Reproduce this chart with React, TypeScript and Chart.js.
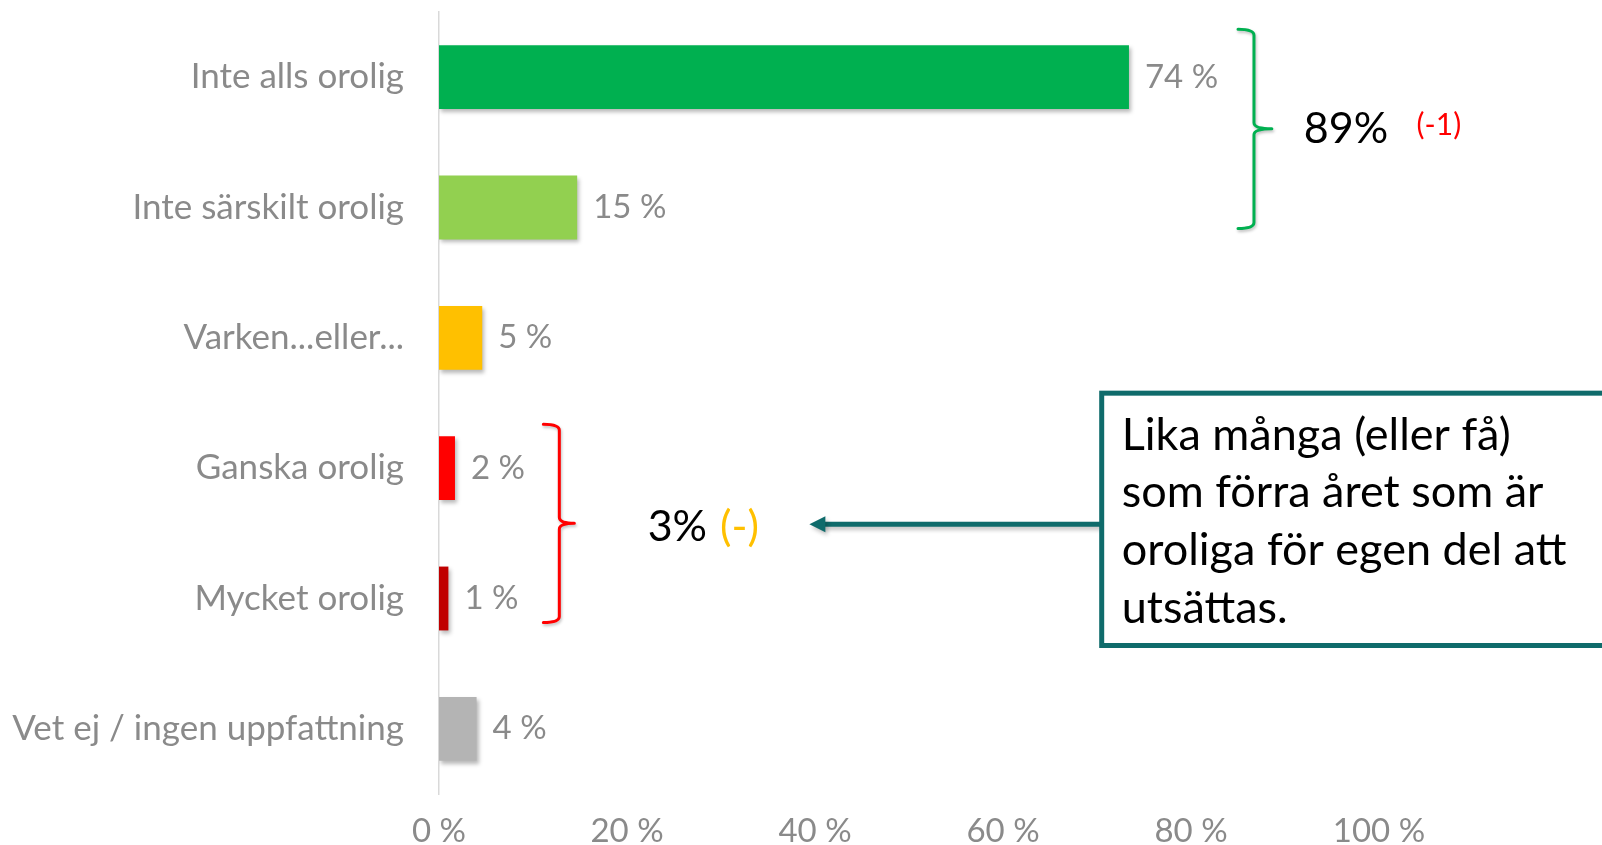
import React, { useEffect, useRef } from "react";
import { Chart, registerables } from "chart.js";

Chart.register(...registerables);

const categories = [
  "Inte alls orolig",
  "Inte särskilt orolig",
  "Varken...eller...",
  "Ganska orolig",
  "Mycket orolig",
  "Vet ej / ingen uppfattning",
];
const values = [73.4, 14.7, 4.6, 1.7, 1.0, 4.0];
const valueLabels = ["74 %", "15 %", "5 %", "2 %", "1 %", "4 %"];
const barColors = ["#00B050", "#92D050", "#FFC000", "#FF0000", "#C00000", "#B4B4B4"];
const xTicks = [0, 20, 40, 60, 80, 100];

const FONT = "Lato, 'Open Sans', sans-serif";
const GRAY = "#8a8a8a";
const TEAL = "#0F6B6B";

const shadowPlugin = {
  id: "barShadow",
  beforeDatasetsDraw(chart: any) {
    const ctx = chart.ctx;
    ctx.save();
    ctx.shadowColor = "rgba(0,0,0,0.28)";
    ctx.shadowBlur = 4;
    ctx.shadowOffsetX = 2;
    ctx.shadowOffsetY = 3;
  },
  afterDatasetsDraw(chart: any) {
    chart.ctx.restore();
  },
};

const labelPlugin = {
  id: "valueLabels",
  afterDatasetsDraw(chart: any) {
    const ctx = chart.ctx;
    const meta = chart.getDatasetMeta(0);
    ctx.save();
    ctx.font = `33px ${FONT}`;
    ctx.fillStyle = GRAY;
    ctx.textAlign = "left";
    ctx.textBaseline = "middle";
    meta.data.forEach((bar: any, i: number) => {
      ctx.fillText(valueLabels[i], bar.x + 16, bar.y);
    });
    ctx.restore();
  },
};

function drawBrace(ctx: any, hookX: number, lineX: number, tipX: number, top: number, bottom: number, color: string) {
  const mid = (top + bottom) / 2;
  const r = 6;
  ctx.save();
  ctx.strokeStyle = color;
  ctx.lineWidth = 3;
  ctx.lineCap = "round";
  ctx.lineJoin = "round";
  ctx.shadowColor = "rgba(0,0,0,0.25)";
  ctx.shadowBlur = 3;
  ctx.shadowOffsetX = 1;
  ctx.shadowOffsetY = 2;
  ctx.beginPath();
  ctx.moveTo(hookX, top);
  ctx.quadraticCurveTo(lineX, top, lineX, top + r);
  ctx.lineTo(lineX, mid - r);
  ctx.quadraticCurveTo(lineX, mid, tipX, mid);
  ctx.quadraticCurveTo(lineX, mid, lineX, mid + r);
  ctx.lineTo(lineX, bottom - r);
  ctx.quadraticCurveTo(lineX, bottom, hookX, bottom);
  ctx.stroke();
  ctx.restore();
}

const annotationPlugin = {
  id: "annotations",
  afterDraw(chart: any) {
    const ctx = chart.ctx;
    const xs = chart.scales.x;
    const ys = chart.scales.y;
    const px = (v: number) => xs.getPixelForValue(v);
    const py = (i: number) => ys.getPixelForValue(i);

    const gTop = py(0) - 48;
    const gBot = py(1) + 21;
    const rTop = py(3) - 44;
    const rBot = py(4) + 24;
    drawBrace(ctx, px(85), px(86.7), px(88.6), gTop, gBot, "#00B050");
    drawBrace(ctx, px(11.1), px(12.8), px(14.4), rTop, rBot, "#FF0000");

    const greenMid = (gTop + gBot) / 2;
    const redMid = (rTop + rBot) / 2;

    ctx.save();
    ctx.textBaseline = "middle";
    ctx.textAlign = "left";
    ctx.font = `43px ${FONT}`;
    ctx.fillStyle = "#000000";
    ctx.fillText("89%", px(92), greenMid);
    ctx.font = `30px ${FONT}`;
    ctx.fillStyle = "#FF0000";
    ctx.fillText("(-1)", px(104), greenMid - 4);

    ctx.font = `43px ${FONT}`;
    ctx.fillStyle = "#000000";
    ctx.fillText("3%", px(22.2), redMid + 4);
    const w3 = ctx.measureText("3%").width + 13;
    ctx.fillStyle = "#FFC000";
    ctx.fillText("(-)", px(22.2) + w3, redMid + 4);
    ctx.restore();

    // Arrow
    const boxLeft = px(70.5);
    const arrowY = redMid + 1;
    const tip = px(39.4);
    ctx.save();
    ctx.shadowColor = "rgba(0,0,0,0.25)";
    ctx.shadowBlur = 4;
    ctx.shadowOffsetX = 2;
    ctx.shadowOffsetY = 3;
    ctx.strokeStyle = TEAL;
    ctx.fillStyle = TEAL;
    ctx.lineWidth = 5;
    ctx.beginPath();
    ctx.moveTo(boxLeft, arrowY);
    ctx.lineTo(tip + 12, arrowY);
    ctx.stroke();
    ctx.beginPath();
    ctx.moveTo(tip, arrowY);
    ctx.lineTo(tip + 16, arrowY - 8);
    ctx.lineTo(tip + 16, arrowY + 8);
    ctx.closePath();
    ctx.fill();
    ctx.restore();

    // Box
    const boxTop = py(3) - 75;
    const boxBottom = py(4) + 47;
    ctx.save();
    ctx.fillStyle = "#ffffff";
    ctx.fillRect(boxLeft, boxTop, 600, boxBottom - boxTop);
    ctx.strokeStyle = TEAL;
    ctx.lineWidth = 5;
    ctx.strokeRect(boxLeft, boxTop, 600, boxBottom - boxTop);
    ctx.fillStyle = "#000000";
    ctx.font = `45px ${FONT}`;
    ctx.textAlign = "left";
    ctx.textBaseline = "middle";
    const lines = [
      "Lika många (eller få)",
      "som förra året som är",
      "oroliga för egen del att",
      "utsättas.",
    ];
    lines.forEach((l, i) => {
      ctx.fillText(l, boxLeft + 20, boxTop + 42 + i * 57.7);
    });
    ctx.restore();
  },
};

export default function App() {
  const ref = useRef<HTMLCanvasElement | null>(null);
  useEffect(() => {
    document.body.style.margin = "0";
    const canvas = ref.current!;
    const chart = new Chart(canvas, {
      type: "bar",
      data: {
        labels: categories,
        datasets: [
          {
            data: values,
            backgroundColor: barColors,
            borderWidth: 0,
            barPercentage: 0.49,
            categoryPercentage: 1,
          },
        ],
      },
      options: {
        indexAxis: "y",
        responsive: false,
        animation: false,
        layout: { padding: { top: 12, right: 223, left: 0, bottom: 0 } },
        plugins: { legend: { display: false }, tooltip: { enabled: false } },
        scales: {
          x: {
            min: 0,
            max: 100,
            afterBuildTicks(scale: any) {
              scale.ticks = xTicks.map((v) => ({ value: v }));
            },
            afterFit(scale: any) {
              scale.height = 51;
              scale.paddingLeft = 0;
              scale.paddingRight = 0;
            },
            grid: { display: false, drawTicks: false },
            border: { display: false },
            ticks: {
              padding: 18,
              color: GRAY,
              font: { family: FONT, size: 33 },
              callback: (v: any) => `${v} %`,
              maxRotation: 0,
            },
          },
          y: {
            afterFit(scale: any) {
              scale.width = 439;
              scale.paddingTop = 0;
              scale.paddingBottom = 0;
            },
            grid: { display: false, drawTicks: false },
            border: { display: true, color: "#d9d9d9", width: 1.5 },
            ticks: {
              padding: 35,
              color: GRAY,
              font: { family: FONT, size: 35 },
            },
          },
        },
      },
      plugins: [shadowPlugin, labelPlugin, annotationPlugin],
    });
    return () => chart.destroy();
  }, []);
  return (
    <div style={{ width: 1602, height: 845, background: "#fff" }}>
      <canvas ref={ref} width={1602} height={845} style={{ display: "block" }} />
    </div>
  );
}
